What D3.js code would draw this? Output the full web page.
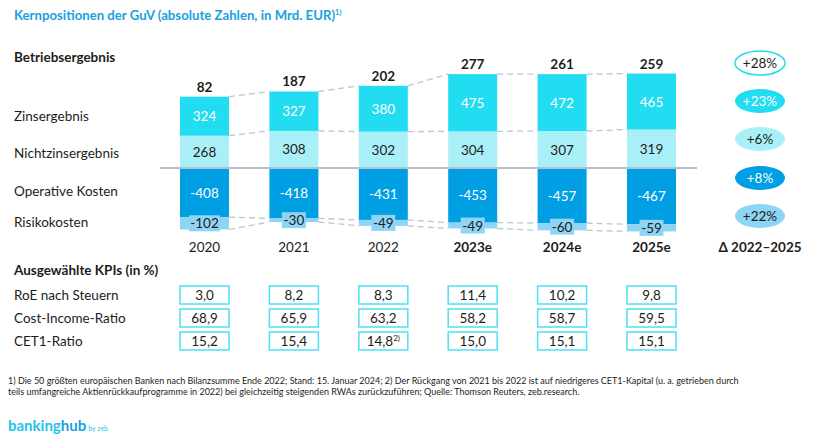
<!DOCTYPE html>
<html><head><meta charset="utf-8">
<script src="https://cdn.jsdelivr.net/npm/d3@7"></script>
<style>
body{margin:0;background:#fff;}
svg{display:block;font-family:Lato,"Noto Sans",sans-serif;}
</style></head>
<body><svg id="c" width="825" height="441"></svg>
<script>
const years = ["2020","2021","2022","2023e","2024e","2025e"];
const estimate = [false,false,false,true,true,true];
const betriebsergebnis = [82,187,202,277,261,259];
const zinsergebnis = [324,327,380,475,472,465];
const nichtzinsergebnis = [268,308,302,304,307,319];
const operativeKosten = [-408,-418,-431,-453,-457,-467];
const risikokosten = [-102,-30,-49,-49,-60,-59];
const deltaLabels = ["+28%","+23%","+6%","+8%","+22%"];
const rowLabels = ["Zinsergebnis","Nichtzinsergebnis","Operative Kosten","Risikokosten"];
const kpiNames = ["RoE nach Steuern","Cost-Income-Ratio","CET1-Ratio"];
const roe = ["3,0","8,2","8,3","11,4","10,2","9,8"];
const cir = ["68,9","65,9","63,2","58,2","58,7","59,5"];
const cet1 = ["15,2","15,4","14,8","15,0","15,1","15,1"];
const cet1Notes = ["","","2)","","",""];

const C = {zins:"#22dcf1", nzins:"#a9eff8", opex:"#009fe3", risk:"#8ed4f5", title:"#1a9fe0", dash:"#b9c7d2", zero:"#b3c1cc", text:"#1d1d1b", kpi:"#4ee0f5"};

const svg = d3.select("#c");
const x = d3.scalePoint().domain(years).range([204.5, 651.5]);
const bw = 49;
const y = d3.scaleLinear().domain([-530, 800]).range([168 + 530*0.1205, 168 - 800*0.1205]);

// title
const t = svg.append("text").attr("x",14).attr("y",20).attr("fill",C.title)
  .attr("font-size",13.2).attr("font-weight",700).text("Kernpositionen der GuV (absolute Zahlen, in Mrd. EUR)");
t.append("tspan").attr("font-size",7.5).attr("dy",-5).text("1)");

// row labels
svg.append("text").attr("x",14).attr("y",62).attr("font-size",13.5).attr("font-weight",700).attr("fill",C.text).text("Betriebsergebnis");
const rowY = [121,158,196,227];
rowLabels.forEach((l,i)=>svg.append("text").attr("x",14).attr("y",rowY[i]).attr("font-size",13.5).attr("fill",C.text).text(l));

// stacked data
const data = years.map((yr,i)=>{
  const z1=nichtzinsergebnis[i], z2=z1+zinsergebnis[i];
  const o1=operativeKosten[i], o2=o1+risikokosten[i];
  return {yr,i,segs:[
    {k:"nzins",a:0,b:z1,v:nichtzinsergebnis[i],col:C.nzins,tc:C.text},
    {k:"zins",a:z1,b:z2,v:zinsergebnis[i],col:C.zins,tc:"#fff"},
    {k:"opex",a:0,b:o1,v:o1,col:C.opex,tc:"#fff"},
    {k:"risk",a:o1,b:o2,v:risikokosten[i],col:C.risk,tc:C.text}
  ], top:z2, nz:z1, ob:o1, rb:o2};
});

// dashed connectors
const conn = svg.append("g").attr("stroke",C.dash).attr("stroke-width",1.3).attr("stroke-dasharray","6,4").attr("fill","none");
for(let i=0;i<data.length-1;i++){
  const a=data[i], b=data[i+1];
  ["top","nz","ob","rb"].forEach(k=>{
    conn.append("line").attr("x1",x(a.yr)+bw/2).attr("x2",x(b.yr)-bw/2).attr("y1",y(a[k])).attr("y2",y(b[k]));
  });
}

// bars
const g = svg.append("g");
data.forEach(d=>{
  d.segs.forEach(s=>{
    g.append("rect").attr("x",x(d.yr)-bw/2).attr("width",bw)
      .attr("y",y(Math.max(s.a,s.b))).attr("height",Math.abs(y(s.a)-y(s.b))).attr("fill",s.col);
  });
});
// zero line
svg.append("line").attr("x1",160).attr("x2",697).attr("y1",y(0)).attr("y2",y(0)).attr("stroke",C.zero).attr("stroke-width",2);

// segment labels
data.forEach(d=>{
  d.segs.forEach(s=>{
    const cy=(y(s.a)+y(s.b))/2;
    if(s.k==="risk"){
      const tw = String(s.v).length*7+3;
      g.append("rect").attr("x",x(d.yr)-tw/2).attr("y",cy-8).attr("width",tw).attr("height",16).attr("fill",C.risk);
    }
    g.append("text").attr("x",x(d.yr)).attr("y",cy+5).attr("text-anchor","middle")
      .attr("font-size",13.5).attr("fill",s.tc).text(s.v);
  });
  g.append("text").attr("x",x(d.yr)).attr("y",y(d.top)-5).attr("text-anchor","middle")
    .attr("font-size",13.5).attr("font-weight",700).attr("fill",C.text).text(betriebsergebnis[d.i]);
  g.append("text").attr("x",x(d.yr)).attr("y",252).attr("text-anchor","middle")
    .attr("font-size",13.5).attr("font-weight",estimate[d.i]?700:400).attr("fill",C.text).text(d.yr);
});

// delta ellipses
const ey=[63,101,139,178,216];
const est=[{f:"#fff",s:C.zins,tc:C.text},{f:C.zins,s:"none",tc:"#fff"},{f:C.nzins,s:"none",tc:C.text},{f:C.opex,s:"none",tc:"#fff"},{f:C.risk,s:"none",tc:C.text}];
deltaLabels.forEach((l,i)=>{
  svg.append("ellipse").attr("cx",760).attr("cy",ey[i]).attr("rx",25).attr("ry",12)
    .attr("fill",est[i].f).attr("stroke",est[i].s).attr("stroke-width",1.5);
  svg.append("text").attr("x",760).attr("y",ey[i]+5).attr("text-anchor","middle").attr("font-size",13.5).attr("fill",est[i].tc).text(l);
});
svg.append("text").attr("x",760).attr("y",252).attr("text-anchor","middle").attr("font-size",13.5).attr("font-weight",700).attr("fill",C.text).text("Δ 2022–2025");

// KPIs
svg.append("text").attr("x",14).attr("y",275).attr("font-size",13.5).attr("font-weight",700).attr("fill",C.text).text("Ausgewählte KPIs (in %)");
const kpiY=[295,318,341];
[roe,cir,cet1].forEach((arr,r)=>{
  svg.append("text").attr("x",14).attr("y",kpiY[r]+5).attr("font-size",13.5).attr("fill",C.text).text(kpiNames[r]);
  arr.forEach((v,i)=>{
    svg.append("rect").attr("x",x(years[i])-bw/2).attr("y",kpiY[r]-9).attr("width",bw).attr("height",18)
      .attr("fill","#fff").attr("stroke",C.kpi).attr("stroke-width",1.5);
    const tx=svg.append("text").attr("x",x(years[i])).attr("y",kpiY[r]+5).attr("text-anchor","middle").attr("font-size",13.5).attr("fill",C.text).text(v);
    if(r===2 && cet1Notes[i]) tx.append("tspan").attr("font-size",8).attr("dy",-5).text(cet1Notes[i]);
  });
});

// footnote
const fn=[
 "1) Die 50 größten europäischen Banken nach Bilanzsumme Ende 2022; Stand: 15. Januar 2024; 2) Der Rückgang von 2021 bis 2022 ist auf niedrigeres CET1-Kapital (u. a. getrieben durch",
 "teils umfangreiche Aktienrückkaufprogramme in 2022) bei gleichzeitig steigenden RWAs zurückzuführen; Quelle: Thomson Reuters, zeb.research."
];
fn.forEach((l,i)=>svg.append("text").attr("x",8).attr("y",384+i*10.5).attr("font-size",9).attr("fill",C.text).text(l));

// logo
const lg=svg.append("text").attr("x",8).attr("y",431).attr("font-size",15).attr("font-weight",700);
lg.append("tspan").attr("fill","#1fc3ec").text("banking");
lg.append("tspan").attr("fill","#1a9fe0").text("hub");
lg.append("tspan").attr("fill","#1fc3ec").attr("font-size",7).attr("font-weight",400).attr("dx",2).text("by zeb");
</script></body></html>
